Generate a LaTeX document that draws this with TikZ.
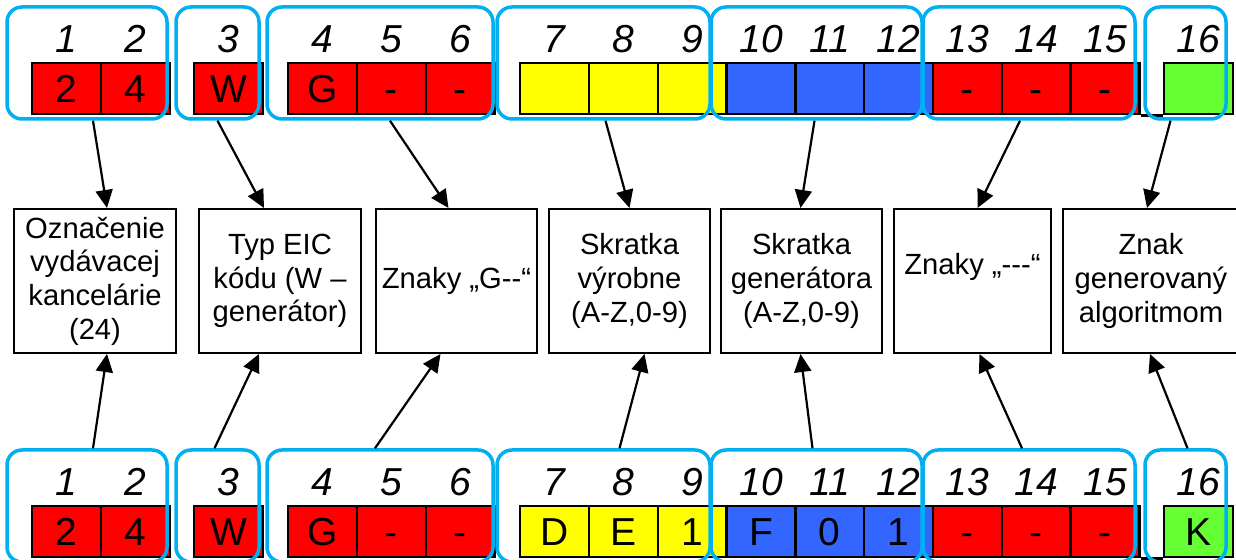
\documentclass[tikz,border=0pt]{standalone}
\usepackage{fontspec}
\setmainfont{Liberation Sans}
\usetikzlibrary{arrows.meta}
\definecolor{grpblue}{HTML}{00B0F0}
\definecolor{cellred}{HTML}{FF0000}
\definecolor{cellyellow}{HTML}{FFFF00}
\definecolor{cellblue}{HTML}{3366FF}
\definecolor{cellgreen}{HTML}{66FF33}
\tikzset{
  cell/.style={draw, line width=1.2pt, minimum width=34.4pt, minimum height=25.5pt,
    inner sep=0pt, anchor=north west, text height=14pt, text depth=0pt,
    font=\fontsize{19.5}{23}\selectfont},
  num/.style={anchor=base, inner sep=0pt, font=\fontsize{19.5}{23}\selectfont\itshape},
  grp/.style={draw=grpblue, line width=1.75pt, rounded corners=7.5pt, inner sep=0pt,
    minimum height=56pt},
  info/.style={draw, line width=1pt, minimum height=72pt, align=center, inner sep=0pt,
    font=\fontsize{14.6}{16.8}\selectfont},
}
\begin{document}
\begin{tikzpicture}[x=0.5pt, y=-0.5pt, >={Triangle[length=9pt,width=8.5pt]}, line width=1.1pt]
\useasboundingbox (0,0) rectangle (1236,560);

% cells, top row and bottom row
\foreach \i/\x/\c/\vt/\vb in {1/31/cellred/2/2, 2/99.8/cellred/4/4, 3/193/cellred/W/W,
  4/287/cellred/G/G, 5/355.8/cellred/-/-, 6/424.6/cellred/-/-,
  7/519/cellyellow//D, 8/587.8/cellyellow//E, 9/656.6/cellyellow//1,
  10/725.4/cellblue//F, 11/794.2/cellblue//0, 12/863/cellblue//1,
  13/931.8/cellred/-/-, 14/1000.6/cellred/-/-, 15/1069.4/cellred/-/-,
  16/1163/cellgreen//K}
{
    \node[cell, fill=\c] (t\i) at (\x,62) {\vt};
    \node[num] (nt\i) at ([yshift=4.5pt]t\i.north) {\i};
    \node[cell, fill=\c] (b\i) at (\x,505) {\vb};
    \node[num] (nb\i) at ([yshift=4.5pt]b\i.north) {\i};
}
\draw[line width=1.2pt] (t15.south east)--(t16.south west);
\draw[line width=1.2pt] (b15.south east)--(b16.south west);

% groups
\foreach \g/\x/\w in {1/87/80, 2/217.5/41.5, 3/380/113, 4/603.5/106.5,
  5/816.5/105.5, 6/1029/106, 7/1185.5/40.5}
{
    \node[grp, minimum width=\w pt] (gt\g) at (\x,63) {};
    \node[grp, minimum width=\w pt] (gb\g) at (\x,506) {};
}

% description boxes
\node[info, minimum width=81pt] (o1) at (95,281) {Označenie\\vydávacej\\kancelárie\\(24)};
\node[info, minimum width=81pt] (o2) at (280,281) {Typ EIC\\kódu (W –\\generátor)};
\node[info, minimum width=80.5pt] (o3) at (456.5,281) {Znaky „G-{}-“};
\node[info, minimum width=80.5pt] (o4) at (629.5,281) {Skratka\\výrobne\\(A-Z,0-9)};
\node[info, minimum width=80.5pt] (o5) at (801.5,281) {Skratka\\generátora\\(A-Z,0-9)};
\node[info, minimum width=78.5pt] (o6) at (972.5,281) {Znaky „-{}-{}-“\\\mbox{}};
\node[info, minimum width=88pt] (o7) at (1151,281) {Znak\\generovaný\\algoritmom};

% arrows
\foreach \g/\sa/\ea/\sb/\eb in {1/6/12/6/12, 2/0/-16/-3/-21, 3/10/-8/-5/-16,
  4/2/0/16/15, 5/-2/-1/-4/-1, 6/-9/5/-7/7, 7/-15/-4/2/-1}
{
    \draw[->] ([shift={(\sa,0)}]gt\g.south)--([shift={(\ea,0)}]o\g.north);
    \draw[->] ([shift={(\sb,0)}]gb\g.north)--([shift={(\eb,0)}]o\g.south);
}
\end{tikzpicture}
\end{document}
